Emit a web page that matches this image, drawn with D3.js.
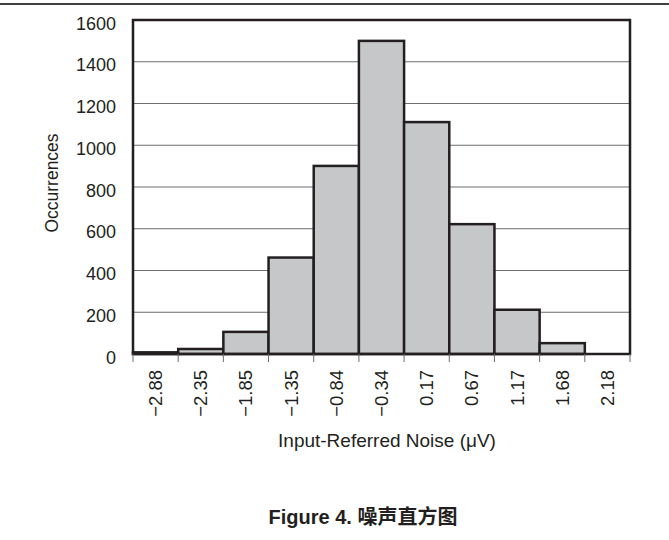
<!DOCTYPE html>
<html>
<head>
<meta charset="utf-8">
<script src="https://cdn.jsdelivr.net/npm/d3@7"></script>
<style>
  html, body { margin: 0; padding: 0; background: #fff; }
  svg { display: block; }
  text { font-family: "Liberation Sans", Arial, Helvetica, sans-serif; fill: #231f20; }
</style>
</head>
<body>
<svg id="chart" width="669" height="540"></svg>
<script>
const categories = ["\u22122.88", "\u22122.35", "\u22121.85", "\u22121.35", "\u22120.84", "\u22120.34", "0.17", "0.67", "1.17", "1.68", "2.18"];
const occurrences = [8, 24, 106, 462, 901, 1500, 1111, 622, 212, 52, 0];
const yTicks = [0, 200, 400, 600, 800, 1000, 1200, 1400, 1600];
const yTitle = "Occurrences";
const xTitle = "Input-Referred Noise (\u03BCV)";
const caption = "Figure 4. 噪声直方图";

const svg = d3.select("#chart");
const plotL = 133, plotR = 630, plotT = 20, plotB = 354;
const dark = "#231f20";

const x = d3.scaleBand().domain(categories).range([plotL, plotR]).paddingInner(0).paddingOuter(0);
const y = d3.scaleLinear().domain([0, 1600]).range([plotB, plotT]);

// top rule
svg.append("line").attr("x1", 0).attr("x2", 669).attr("y1", 4).attr("y2", 4)
  .attr("stroke", "#000").attr("stroke-width", 1.4);

// gridlines
svg.append("g").selectAll("line").data(yTicks.filter(d => d > 0 && d < 1600)).join("line")
  .attr("x1", plotL).attr("x2", plotR)
  .attr("y1", d => y(d)).attr("y2", d => y(d))
  .attr("stroke", "#6d6e70").attr("stroke-width", 1);

// bars
svg.append("g").selectAll("rect").data(categories).join("rect")
  .attr("x", d => x(d))
  .attr("width", x.bandwidth())
  .attr("y", (d, i) => y(occurrences[i]))
  .attr("height", (d, i) => plotB - y(occurrences[i]))
  .attr("fill", "#c6c7c9")
  .attr("stroke", dark).attr("stroke-width", 2.5);

// frame
svg.append("rect").attr("x", plotL).attr("y", plotT).attr("width", plotR - plotL).attr("height", plotB - plotT)
  .attr("fill", "none").attr("stroke", dark).attr("stroke-width", 2.5);

// x tick marks at bin edges
const edges = categories.map(c => x(c)).concat([plotR]);
svg.append("g").selectAll("line").data(edges).join("line")
  .attr("x1", d => d).attr("x2", d => d)
  .attr("y1", plotB).attr("y2", plotB + 8)
  .attr("stroke", "#6d6e70").attr("stroke-width", 1);

// y tick labels
svg.append("g").selectAll("text").data(yTicks).join("text")
  .attr("x", 116).attr("y", d => y(d) + 9.5)
  .attr("text-anchor", "end")
  .attr("font-size", 18)
  .text(d => d);

// x tick labels (rotated)
svg.append("g").selectAll("text").data(categories).join("text")
  .attr("transform", d => `translate(${x(d) + x.bandwidth() / 2 + 6.5},370) rotate(-90)`)
  .attr("text-anchor", "end")
  .attr("font-size", 18.5)
  .text(d => d);

// axis titles
svg.append("text")
  .attr("transform", "translate(58,183) rotate(-90)")
  .attr("text-anchor", "middle")
  .attr("font-size", 17.5)
  .text(yTitle);

svg.append("text")
  .attr("x", 387).attr("y", 447)
  .attr("text-anchor", "middle")
  .attr("font-size", 19)
  .text(xTitle);

// caption
svg.append("text")
  .attr("x", 363).attr("y", 524)
  .attr("text-anchor", "middle")
  .attr("font-size", 20)
  .attr("font-weight", "bold")
  .style("font-family", "'Liberation Sans', Arial, 'Noto Sans CJK SC', sans-serif")
  .text(caption);
</script>
</body>
</html>
